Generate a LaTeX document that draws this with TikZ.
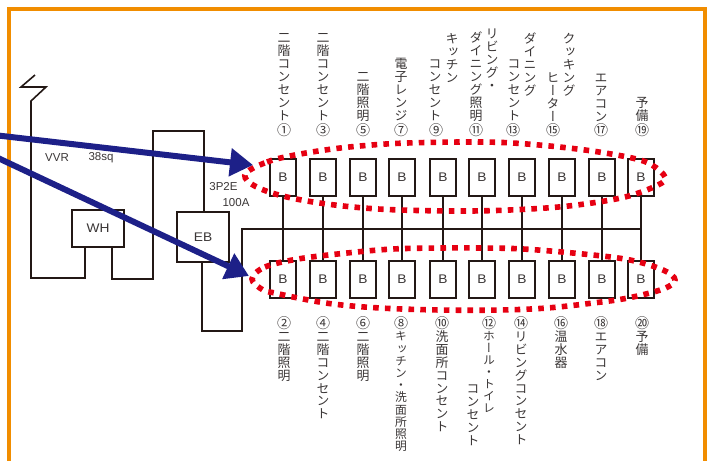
\documentclass[tikz,border=0pt]{standalone}
\usepackage{fontspec}
\usetikzlibrary{arrows.meta}
\setmainfont{Liberation Sans}
\newfontfamily\jpv[RawFeature=+vert]{Noto Sans CJK JP}
\newfontfamily\wide[FakeStretch=1.1]{Liberation Sans}
\definecolor{ink}{HTML}{231815}
\definecolor{txt}{HTML}{3A3636}
\definecolor{frame}{HTML}{F18D00}
\definecolor{dots}{HTML}{E60012}
\definecolor{navy}{HTML}{1D2088}
\newdimen\VSp
\def\VSone#1{\hbox to 13pt{\hss\vrule height .87\VSp depth .13\VSp width 0pt\smash{#1}\hss}}
\def\VSi#1{\ifx#1\relax\else\VSone{#1}\expandafter\VSi\fi}
\newcommand\VS[2][12.9pt]{\vbox{\offinterlineskip\VSp=#1\relax\VSi#2\relax}}
\tikzset{
  vlabel/.style={inner sep=0pt,text=txt,font=\jpv\fontsize{12.9}{14}\selectfont},
  topl/.style={vlabel,anchor=south},
  botl/.style={vlabel,anchor=north},
  tight/.style={font=\jpv\fontsize{11.8}{12}\selectfont},
  numl/.style={inner sep=0pt,text=txt,font=\jpv\fontsize{14}{14}\selectfont},
  brk/.style={draw=ink,line width=1.5pt,fill=white,minimum width=26pt,minimum height=37pt,inner sep=0pt,text=txt,font=\wide\fontsize{12.5}{13}\selectfont},
  mbox/.style={brk,minimum width=52pt},
  tag/.style={inner sep=0pt,text=txt,font=\fontsize{11.5}{12}\selectfont},
  wire/.style={draw=ink,line width=1.6pt,line join=miter},
  loopd/.style={draw=dots,line width=5.6pt,dash pattern=on 5.6pt off 6.2pt},
  pointer/.style={draw=navy,line width=6pt,-{Triangle[length=23pt,width=27pt]}}
}
\begin{document}
\begin{tikzpicture}[x=1pt,y=-1pt]
\useasboundingbox (0,0) rectangle (713,461);
\clip (0,0) rectangle (713,461);
\draw[frame,line width=4pt] (9.3,9) rectangle (705,480);

% breakers
\foreach \i/\x in {1/283,2/323,3/363,4/402,5/443,6/482,7/522,8/562,9/602,10/641}{
  \node[brk] (T\i) at (\x,177.5) {B};
  \node[brk] (U\i) at (\x,279.5) {B};
}
\node[mbox] (WH) at (98,228.5) {WH};
\node[mbox,minimum height=50pt] (EB) at (203,237) {EB};

% wires
\coordinate (z1) at (35,75);
\coordinate (z2) at (21,87);
\coordinate (z3) at (46,87);
\coordinate (z4) at (31,101);
\coordinate (w1) at (31,278);
\coordinate (w2) at (85,278);
\coordinate (w3) at (112,279);
\coordinate (w4) at (153,279);
\coordinate (w5) at (153,131);
\coordinate (w6) at (204,131);
\coordinate (e1) at (202,331);
\coordinate (e2) at (242,331);
\coordinate (e3) at (242,229);
\draw[wire] (z1) -- (z2) -- (z3) -- (z4) -- (w1) -- (w2) -- (WH.south -| w2);
\draw[wire] (WH.south -| w3) -- (w3) -- (w4) -- (w5) -- (w6) -- (EB.north -| w6);
\draw[wire] (EB.south -| e1) -- (e1) -- (e2) -- (e3) -- (e3 -| T10.south);
\foreach \i in {1,...,10}{\draw[wire] (T\i.south) -- (U\i.north);}

% tags
\node[tag] (t1) at (57,158) {VVR};
\node[tag] (t2) at (101,158) {38sq};
\node[tag] (t3) at (223.5,187) {3P2E};
\node[tag] (t4) at (236,203) {100A};

% circled numbers
\foreach \n/\c/\x in {1/①/284,3/③/323,5/⑤/363,7/⑦/401,9/⑨/436,11/⑪/476,13/⑬/513,15/⑮/553,17/⑰/601,19/⑲/642}{
  \node[numl] (n\n) at (\x,130) {\c};}
\foreach \n/\c/\x in {2/②/284,4/④/323,6/⑥/363,8/⑧/401,10/⑩/442,12/⑫/489,14/⑭/521,16/⑯/561,18/⑱/601,20/⑳/642}{
  \node[numl] (n\n) at (\x,323) {\c};}

% upper labels
\node[topl] (a1) at (284,122) {\VS{二階コンセント}};
\node[topl] (a3) at (323,122) {\VS{二階コンセント}};
\node[topl] (a5) at (363,122) {\VS{二階照明}};
\node[topl] (a7) at (401,122) {\VS{電子レンジ}};
\node[topl] (a9) at (435,122) {\VS{コンセント}};
\node[topl] (a9b) at (452,84) {\VS{キッチン}};
\node[topl] (a11) at (476,122) {\VS{ダイニング照明}};
\node[topl] (a11b) at (492,92) {\VS{リビング・}};
\node[topl] (a13) at (514,122) {\VS{コンセント}};
\node[topl] (a13b) at (530,97) {\VS{ダイニング}};
\node[topl] (a15) at (553,123) {\VS{ヒーター}};
\node[topl] (a15b) at (569,97) {\VS{クッキング}};
\node[topl] (a17) at (601,123) {\VS{エアコン}};
\node[topl] (a19) at (642,122) {\VS{予備}};

% lower labels
\node[botl] (b2) at (284,330) {\VS{二階照明}};
\node[botl] (b4) at (323,330) {\VS{二階コンセント}};
\node[botl] (b6) at (363,330) {\VS{二階照明}};
\node[botl,tight] (b8) at (401,330) {\VS[12.2pt]{キッチン・洗面所照明}};
\node[botl] (b10) at (442,330) {\VS{洗面所コンセント}};
\node[botl,tight] (b12) at (489,330) {\VS[12pt]{ホール・トイレ}};
\node[botl] (b12b) at (473,382) {\VS{コンセント}};
\node[botl] (b14) at (521,330) {\VS{リビングコンセント}};
\node[botl] (b16) at (561,330) {\VS{温水器}};
\node[botl] (b18) at (601,330) {\VS{エアコン}};
\node[botl] (b20) at (642,330) {\VS{予備}};

% dotted outlines
\draw[loopd] plot[smooth cycle,tension=0.6] coordinates {
 (246,173) (267,162) (290,156) (325,150) (360,146) (407,143) (480,142) (527,144)
 (585,150) (632,158) (652,165) (665,177) (658,185) (625,197) (577,205) (530,209)
 (470,211) (400,210) (353,207) (307,201) (272,193) (250,183)};
\draw[loopd] plot[smooth cycle,tension=0.6] coordinates {
 (252,279) (265,267) (298,259) (347,253) (393,249) (440,248) (480,248) (523,249)
 (583,254) (630,260) (663,270) (675,280) (663,289) (628,298) (593,303) (547,308)
 (500,310) (440,310) (380,308) (333,304) (298,298) (275,293) (263,290)};

% arrows
\coordinate (p1) at (-2,135.5);
\coordinate (p2) at (253,165);
\coordinate (p3) at (-2,158);
\coordinate (p4) at (249,276);
\draw[pointer] (p1) -- (p2);
\draw[pointer] (p3) -- (p4);
\end{tikzpicture}
\end{document}
